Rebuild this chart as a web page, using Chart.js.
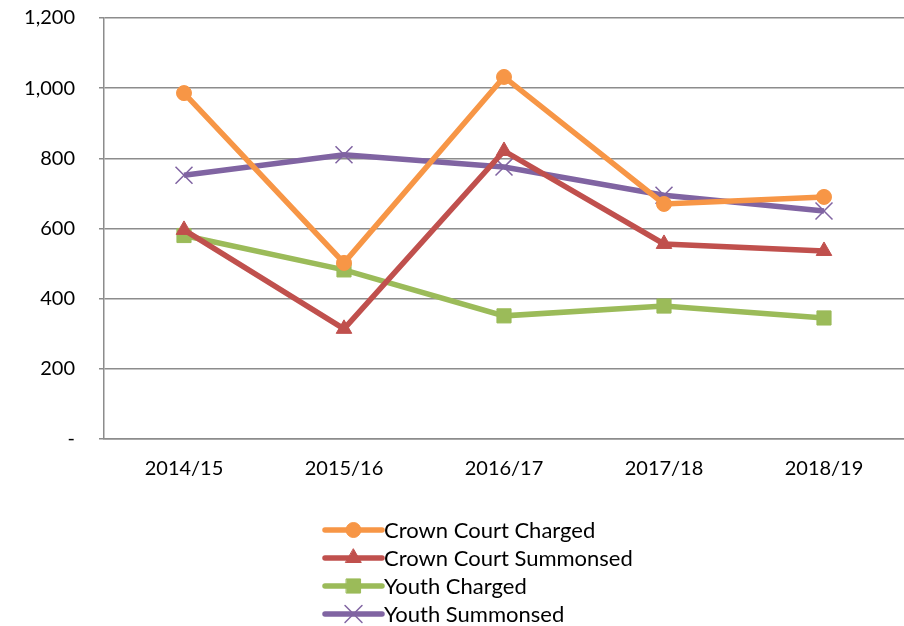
<!DOCTYPE html>
<html>
<head>
<meta charset="utf-8">
<script src="https://cdn.jsdelivr.net/npm/chart.js@4.4.1/dist/chart.umd.min.js"></script>
<style>
  html, body { margin: 0; padding: 0; background: #fff; }
  #wrap { width: 904px; height: 626px; position: relative; }
</style>
</head>
<body>
<div id="wrap"><canvas id="chart" width="904" height="626"></canvas></div>
<script>
/* ── DATA ─────────────────────────────────── */
const years = ['2014/15', '2015/16', '2016/17', '2017/18', '2018/19'];
const crownCharged    = [986, 502, 1032, 670, 690];
const crownSummonsed  = [596, 314, 821, 556, 536];
const youthCharged    = [580, 482, 351, 379, 345];
const youthSummonsed  = [752, 810, 775, 695, 650];
const yTicks = [0, 200, 400, 600, 800, 1000, 1200];

const FONT = 'Lato, "Noto Sans", sans-serif';

function series(label, data, color, style, radius, pbw) {
  return {
    label, data,
    borderColor: color,
    backgroundColor: color,
    pointBackgroundColor: color,
    pointBorderColor: color,
    borderWidth: 5.5,
    pointStyle: style,
    pointRadius: radius,
    pointHoverRadius: radius,
    pointBorderWidth: pbw,
    tension: 0,
    fill: false
  };
}

/* ── LEGEND (vertical, under the axis) ─────── */
const vertLegend = {
  id: 'vertLegend',
  afterDraw(chart) {
    const ctx = chart.ctx;
    const x0 = 325, lineW = 57, y0 = 530, step = 28;
    ctx.save();
    chart.data.datasets.forEach((ds, i) => {
      const y = y0 + i * step;
      ctx.strokeStyle = ds.borderColor;
      ctx.lineWidth = 5.5;
      ctx.lineCap = 'round';
      ctx.beginPath();
      ctx.moveTo(x0, y);
      ctx.lineTo(x0 + lineW, y);
      ctx.stroke();
      ctx.fillStyle = ds.backgroundColor;
      ctx.lineWidth = ds.pointBorderWidth;
      Chart.helpers.drawPoint(ctx, {
        pointStyle: ds.pointStyle,
        radius: ds.pointRadius,
        borderWidth: ds.pointBorderWidth,
        rotation: 0
      }, x0 + lineW / 2, y);
      ctx.fillStyle = '#000';
      ctx.font = '22px ' + FONT;
      ctx.textBaseline = 'middle';
      ctx.textAlign = 'left';
      ctx.fillText(ds.label, x0 + lineW + 2, y + 1);
    });
    ctx.restore();
  }
};

new Chart(document.getElementById('chart'), {
  type: 'line',
  data: {
    labels: years,
    datasets: [
      series('Crown Court Charged',   crownCharged,   '#F79646', 'circle',   7.5, 1),
      series('Crown Court Summonsed', crownSummonsed, '#C0504D', 'triangle', 9, 1),
      series('Youth Charged',         youthCharged,   '#9BBB59', 'rect',     10, 1),
      series('Youth Summonsed',       youthSummonsed, '#8064A2', 'crossRot', 12, 1.5)
    ]
  },
  options: {
    responsive: false,
    animation: false,
    layout: { autoPadding: false, padding: { left: 0, right: 0, top: 18, bottom: 137 } },
    plugins: {
      legend: { display: false },
      tooltip: { enabled: false }
    },
    scales: {
      x: {
        offset: true,
        grid: { display: false },
        border: { display: true, color: '#8c8c8c', width: 1.5 },
        ticks: { color: '#000', font: { family: FONT, size: 20 }, padding: 10, maxRotation: 0 },
        afterFit(s) {
          s.height = 50;
          s.paddingLeft = 0; s.paddingRight = 0;
        }
      },
      y: {
        min: 0, max: 1200,
        afterBuildTicks(s) { s.ticks = yTicks.map(v => ({ value: v })); },
        grid: { color: '#8c8c8c', lineWidth: 1.5, tickLength: 5 },
        border: { display: true, color: '#8c8c8c', width: 1.5 },
        ticks: {
          color: '#000',
          font: { family: FONT, size: 20 },
          padding: 24,
          callback: v => v === 0 ? '-' : v.toLocaleString('en-US')
        },
        afterFit(s) {
          s.width = 104;
          s.paddingTop = 0; s.paddingBottom = 0;
        }
      }
    }
  },
  plugins: [vertLegend]
});
</script>
</body>
</html>
